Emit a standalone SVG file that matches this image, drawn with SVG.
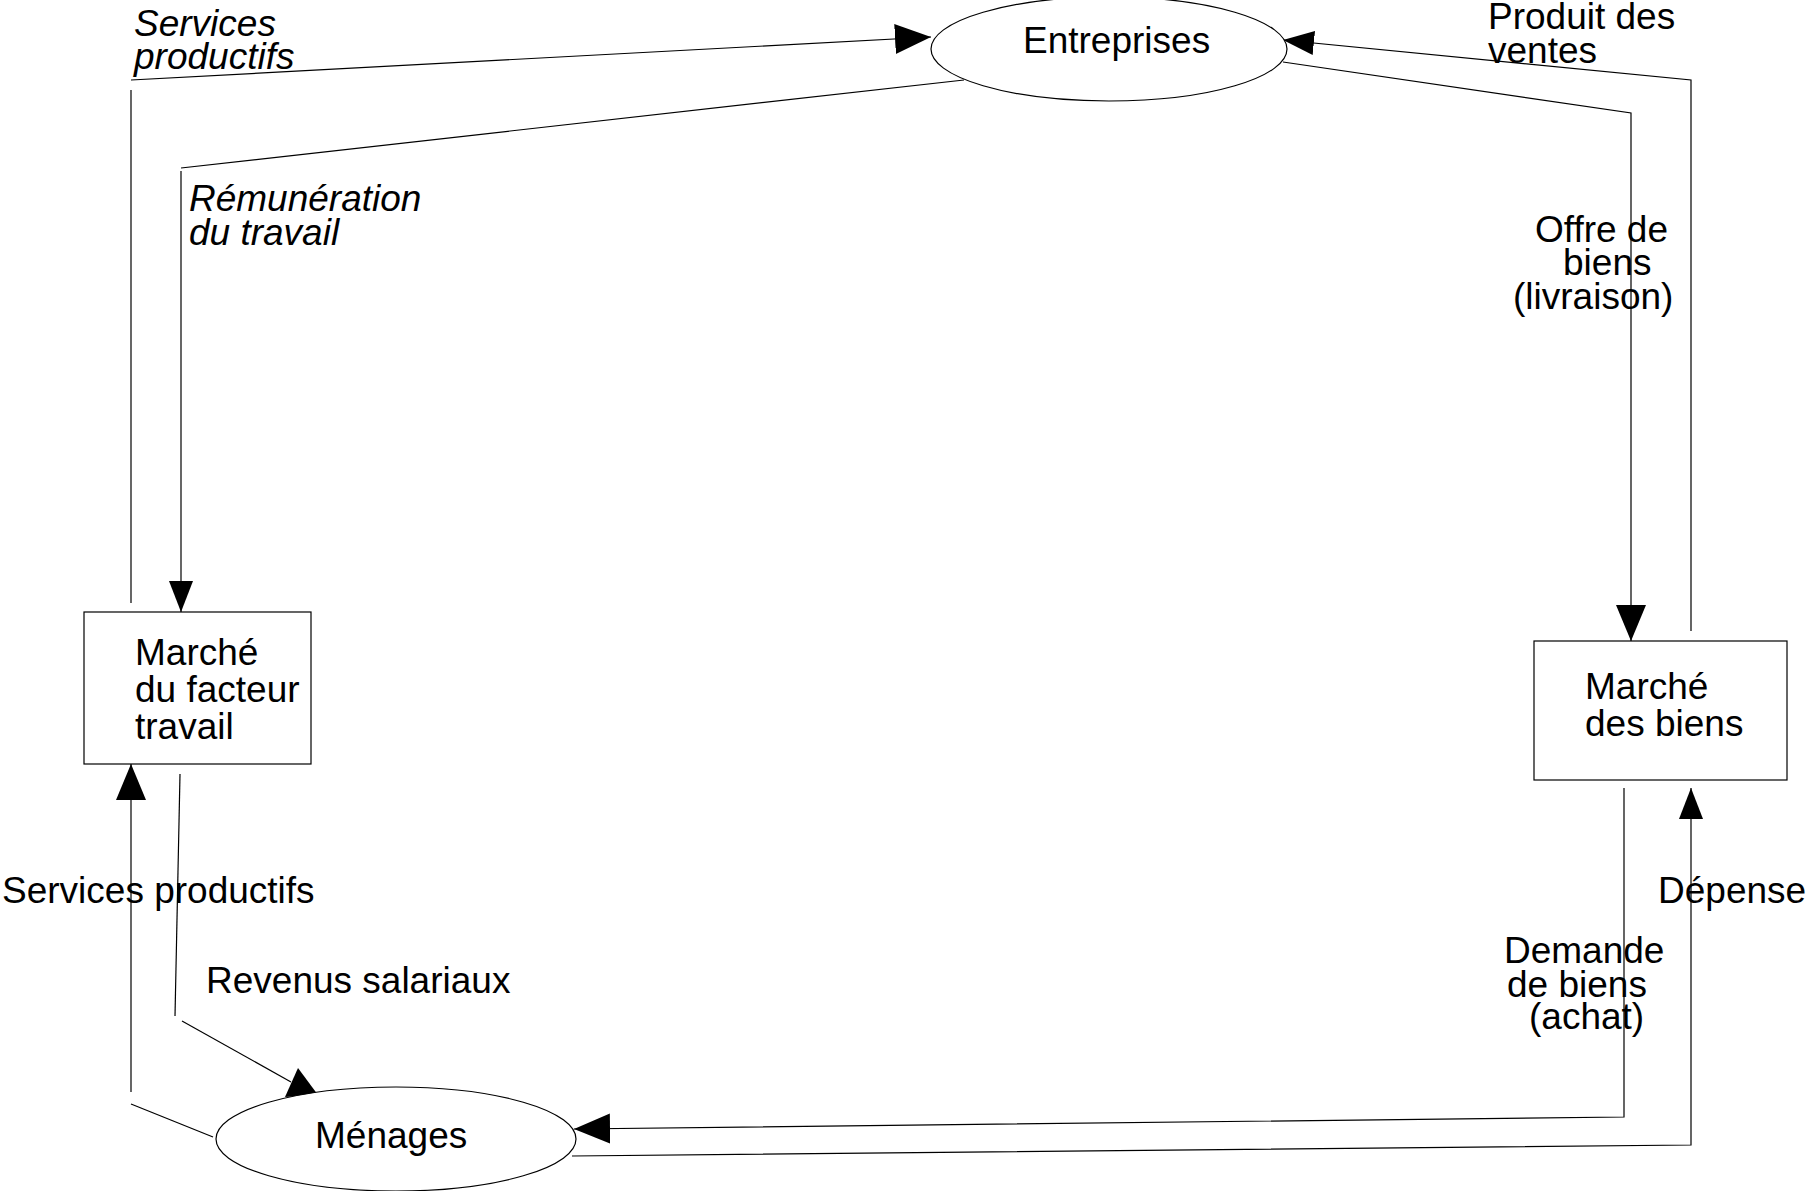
<svg xmlns="http://www.w3.org/2000/svg" width="1807" height="1191" viewBox="0 0 1807 1191">
<style>
text{font-family:"Liberation Sans",Arial,Helvetica,sans-serif;font-size:37px;fill:#000}
.it{font-style:italic}
.node{fill:#fff;stroke:#000;stroke-width:1.2}
.edge{fill:none;stroke:#000;stroke-width:1.2}
.big{marker-end:url(#ahb)}
.sm{marker-end:url(#ahs)}
.head{fill:#000}
</style>
<defs>
<marker id="ahb" markerUnits="userSpaceOnUse" markerWidth="38" markerHeight="32" refX="36" refY="15" orient="auto" viewBox="0 0 38 32">
<path d="M0,0 L36,15 L0,30 z" fill="#000"/>
</marker>
<marker id="ahs" markerUnits="userSpaceOnUse" markerWidth="33" markerHeight="26" refX="31" refY="12" orient="auto" viewBox="0 0 33 26">
<path d="M0,0 L31,12 L0,24 z" fill="#000"/>
</marker>
</defs>
<rect width="1807" height="1191" fill="#fff"/>
<g id="connectors">
<line class="edge" x1="131" y1="603" x2="131" y2="90"/>
<line class="edge big" x1="131" y1="80" x2="931" y2="37"/>
<line class="edge" x1="964" y1="80" x2="181" y2="168"/>
<line class="edge sm" x1="181" y1="171" x2="181" y2="612"/>
<polyline class="edge sm" points="1691,631 1691,80 1283,40"/>
<polyline class="edge big" points="1283,62 1631,113 1631,641"/>
<line class="edge" x1="213" y1="1137" x2="131" y2="1104"/>
<line class="edge big" x1="131" y1="1092" x2="131" y2="764"/>
<line class="edge" x1="180" y1="774" x2="175" y2="1016"/>
<line class="edge" x1="182" y1="1021" x2="291" y2="1082"/>
<polygon class="head" points="298,1068 285,1097 318,1095"/>
<polyline class="edge big" points="1624,788 1624,1117 574,1129"/>
<polyline class="edge sm" points="572,1156 1691,1145 1691,788"/>
</g>
<g id="entreprises">
<ellipse class="node" cx="1109" cy="49" rx="178" ry="52"/>
<text x="1023" y="53">Entreprises</text>
</g>
<g id="menages">
<ellipse class="node" cx="396" cy="1139" rx="180" ry="52"/>
<text x="315" y="1148">Ménages</text>
</g>
<g id="marche-travail">
<rect class="node" x="84" y="612" width="227" height="152"/>
<text x="135" y="665">Marché</text>
<text x="135" y="702">du facteur</text>
<text x="135" y="739">travail</text>
</g>
<g id="marche-biens">
<rect class="node" x="1534" y="641" width="253" height="139"/>
<text x="1585" y="699">Marché</text>
<text x="1585" y="736">des biens</text>
</g>
<g id="labels">
<text class="it" x="134" y="36">Services</text>
<text class="it" x="134" y="69">productifs</text>
<text class="it" x="189" y="211">Rémunération</text>
<text class="it" x="189" y="245">du travail</text>
<text x="1488" y="29">Produit des</text>
<text x="1488" y="63">ventes</text>
<text x="1535" y="242">Offre de</text>
<text x="1563" y="275">biens</text>
<text x="1513" y="309">(livraison)</text>
<text x="2" y="903">Services productifs</text>
<text x="206" y="993">Revenus salariaux</text>
<text x="1658" y="903">Dépense</text>
<text x="1504" y="963">Demande</text>
<text x="1507" y="997">de biens</text>
<text x="1529" y="1029">(achat)</text>
</g>
</svg>
